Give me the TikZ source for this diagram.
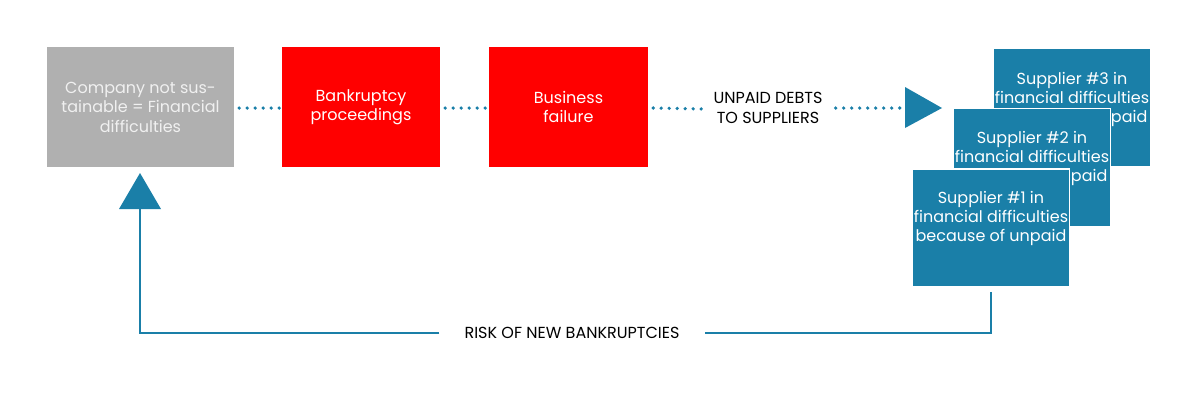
\documentclass[tikz,border=0pt]{standalone}
\usepackage{fontspec}
\setmainfont{Poppins}
\definecolor{boxgray}{HTML}{B0B0B0}
\definecolor{boxred}{HTML}{FF0000}
\definecolor{boxblue}{HTML}{1A7FA8}
\tikzset{
  box/.style={rectangle, minimum height=120pt, inner sep=0pt, text=white,
    font=\fontsize{16}{19.5}\selectfont, align=center},
  dotline/.style={boxblue, line width=3.6pt, line cap=round, dash pattern=on 0pt off 8pt},
  supbox/.style={rectangle, fill=boxblue, draw=white, line width=1.5pt,
    minimum width=157pt, minimum height=118pt, inner sep=0pt},
  suptext/.style={text=white, font=\fontsize{16}{19}\selectfont, align=center,
    inner sep=0pt, anchor=north},
  feedback/.style={boxblue, line width=2.5pt},
  caption/.style={text=black, font=\fontsize{16}{19.5}\selectfont, align=center, inner sep=0pt},
  tip/.style={fill=boxblue}
}
\begin{document}
\begin{tikzpicture}[x=1pt,y=-1pt]
\useasboundingbox (0,0) rectangle (1200,400);
% main boxes
\node[box, fill=boxgray, minimum width=187pt, text=white!94!black] (g) at (140.5,107)
  {Company not sus-\\tainable = Financial\\difficulties};
\node[box, fill=boxred, minimum width=158pt] (r1) at (361,107) {Bankruptcy\\proceedings};
\node[box, fill=boxred, minimum width=159pt] (r2) at (568.5,107) {Business\\failure};
% caption
\node[caption] (unpaid) at (768,108) {UNPAID DEBTS\\TO SUPPLIERS};
% triangle tip
\coordinate (tri) at (905,108);
\fill[tip] (905,87) -- (942,108) -- (905,128) -- cycle;
% dotted connectors
\draw[dotline] ([xshift=5pt,yshift=-1pt]g.east) -- ([xshift=-2pt,yshift=-1pt]r1.west);
\draw[dotline] ([xshift=5pt,yshift=-1pt]r1.east) -- ([xshift=-2pt,yshift=-1pt]r2.west);
\draw[dotline] ([xshift=5pt,yshift=-1pt]r2.east) -- ([xshift=-11pt,yshift=-1pt]unpaid.west);
\draw[dotline] ([xshift=13pt]unpaid.east) -- ([xshift=-4pt]tri);
% supplier boxes
\node[supbox] (s3) at (1072,107.5) {};
\node[suptext] (t3) at ([yshift=-24pt]s3.north) {Supplier \#3 in\\financial difficulties\\because of unpaid};
\node[supbox] (s2) at (1032,167.5) {};
\node[suptext] (t2) at ([yshift=-23pt]s2.north) {Supplier \#2 in\\financial difficulties\\because of unpaid};
\node[supbox] (s1) at (991,228) {};
\node[suptext] (t1) at ([yshift=-23pt]s1.north) {Supplier \#1 in\\financial difficulties\\because of unpaid};
% feedback
\node[caption, inner xsep=25pt] (risk) at (572,333) {RISK OF NEW BANKRUPTCIES};
\coordinate (back) at (140,209);
\fill[tip] (119,209) -- (161,209) -- (140,173) -- cycle;
\draw[feedback] ([yshift=-4pt]s1.south) |- (risk.east);
\draw[feedback] (risk.west) -| (back);
\end{tikzpicture}
\end{document}
